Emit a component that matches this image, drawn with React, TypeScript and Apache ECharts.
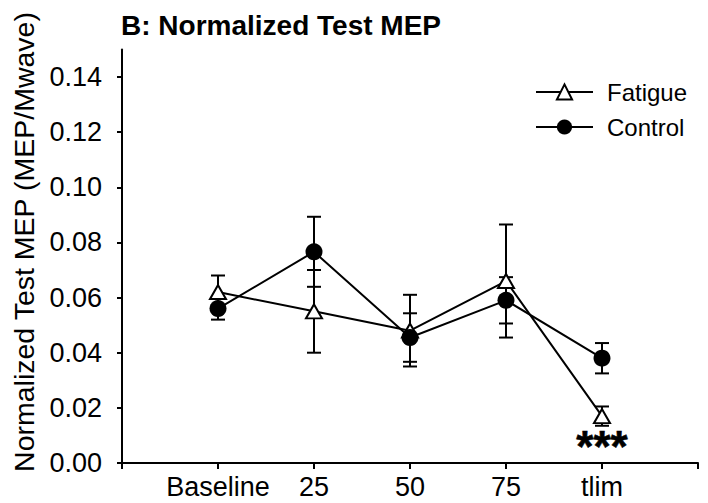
import React, { useEffect, useRef } from "react";
import * as echarts from "echarts";

const categories = ["Baseline", "25", "50", "75", "tlim"];
const fatigueMean = [0.062, 0.055, 0.048, 0.066, 0.017];
const fatigueErr = [0.006, 0.015, 0.013, 0.0205, 0.0035];
const controlMean = [0.056, 0.0766, 0.0455, 0.059, 0.038];
const controlErr = [0.004, 0.0127, 0.0088, 0.0084, 0.0055];
const yTicks = [0, 0.02, 0.04, 0.06, 0.08, 0.1, 0.12, 0.14];
const sigLabel = "***";
const sigIndex = 4;
const sigValue = 0.006;

const FONT = "'Liberation Sans', Arial, Helvetica, sans-serif";

export default function App() {
  const ref = useRef<HTMLDivElement>(null);
  useEffect(() => {
    if (!ref.current) return;
    const chart = echarts.init(ref.current, null, { renderer: "svg" });
    const pos = (i: number) => i + 1;
    const fatigueData = fatigueMean.map((v, i) => [pos(i), v]);
    const controlData = controlMean.map((v, i) => [pos(i), v]);
    const fatigueBars = fatigueMean.map((v, i) => [pos(i), v - fatigueErr[i], v + fatigueErr[i]]);
    const controlBars = controlMean.map((v, i) => [pos(i), v - controlErr[i], v + controlErr[i]]);

    const errRender = (params: any, api: any) => {
      const x = api.value(0);
      const lo = api.value(1);
      const hi = api.value(2);
      const top = api.coord([x, hi]);
      const bot = api.coord([x, lo]);
      const hw = 7;
      const style = { stroke: "#000", lineWidth: 2 };
      return {
        type: "group",
        children: [
          { type: "line", shape: { x1: top[0], y1: top[1], x2: bot[0], y2: bot[1] }, style },
          { type: "line", shape: { x1: top[0] - hw, y1: top[1], x2: top[0] + hw, y2: top[1] }, style },
          { type: "line", shape: { x1: bot[0] - hw, y1: bot[1], x2: bot[0] + hw, y2: bot[1] }, style },
        ],
      };
    };

    chart.setOption({
      animation: false,
      backgroundColor: "#fff",
      textStyle: { fontFamily: FONT, color: "#000" },
      title: {
        text: "B: Normalized Test MEP",
        left: 116,
        top: 6,
        textStyle: { fontFamily: FONT, fontSize: 28, fontWeight: "bold", color: "#000" },
      },
      legend: {
        data: ["Fatigue", "Control"],
        orient: "vertical",
        left: 530,
        top: 75,
        itemWidth: 57,
        itemHeight: 19,
        itemGap: 11,
        textStyle: { fontFamily: FONT, fontSize: 24, color: "#000", padding: [0, 0, 0, 9] },
      },
      grid: { left: 122, right: 10, top: 49.4, bottom: 40, containLabel: false },
      xAxis: {
        type: "value",
        min: 0,
        max: 6,
        interval: 1,
        splitLine: { show: false },
        axisLine: { lineStyle: { color: "#000", width: 2 } },
        axisTick: { show: true, length: 6, lineStyle: { color: "#000", width: 2 } },
        axisLabel: {
          margin: 10,
          fontFamily: FONT,
          fontSize: 27,
          color: "#000",
          formatter: (v: number) => (v >= 1 && v <= categories.length ? categories[v - 1] : ""),
        },
      },
      yAxis: {
        type: "value",
        min: 0,
        max: 0.15,
        splitLine: { show: false },
        axisLine: { show: true, lineStyle: { color: "#000", width: 2 } },
        axisTick: { show: true, length: 5, customValues: yTicks, lineStyle: { color: "#000", width: 2 } },
        axisLabel: {
          margin: 20,
          fontFamily: FONT,
          fontSize: 27,
          color: "#000",
          customValues: yTicks,
          formatter: (v: number) => v.toFixed(2),
        },
      },
      graphic: [
        {
          type: "text",
          x: 24,
          y: 242,
          rotation: Math.PI / 2,
          style: {
            text: "Normalized Test MEP (MEP/Mwave)",
            fontFamily: FONT,
            fontSize: 28.5,
            fill: "#000",
            align: "center",
            verticalAlign: "middle",
          },
        },
      ],
      series: [
        {
          name: "fatigueErr",
          type: "custom",
          renderItem: errRender,
          data: fatigueBars,
          encode: { x: 0, y: [1, 2] },
          z: 1,
          silent: true,
        },
        {
          name: "controlErr",
          type: "custom",
          renderItem: errRender,
          data: controlBars,
          encode: { x: 0, y: [1, 2] },
          z: 1,
          silent: true,
        },
        {
          name: "Fatigue",
          type: "line",
          data: fatigueData,
          symbol: "triangle",
          symbolSize: [16, 14],
          lineStyle: { color: "#000", width: 2 },
          itemStyle: { color: "#fff", borderColor: "#000", borderWidth: 2 },
          z: 3,
        },
        {
          name: "Control",
          type: "line",
          data: controlData,
          symbol: "circle",
          symbolSize: 17,
          lineStyle: { color: "#000", width: 2 },
          itemStyle: { color: "#000", borderColor: "#000", borderWidth: 0 },
          z: 4,
        },
        {
          name: "sig",
          type: "scatter",
          data: [[pos(sigIndex), sigValue]],
          symbolSize: 1,
          itemStyle: { color: "rgba(0,0,0,0)" },
          silent: true,
          label: {
            show: true,
            position: "inside",
            formatter: sigLabel,
            fontFamily: FONT,
            fontSize: 44,
            fontWeight: "bold",
            color: "#000",
            opacity: 1,
            textBorderWidth: 0.6,
            textBorderColor: "#000",
          },
        },
      ],
    });
    return () => chart.dispose();
  }, []);
  return (
    <div style={{ position: "fixed", left: 0, top: 0, width: 708, height: 503, background: "#fff" }}>
      <div ref={ref} style={{ width: 708, height: 503 }} />
    </div>
  );
}
